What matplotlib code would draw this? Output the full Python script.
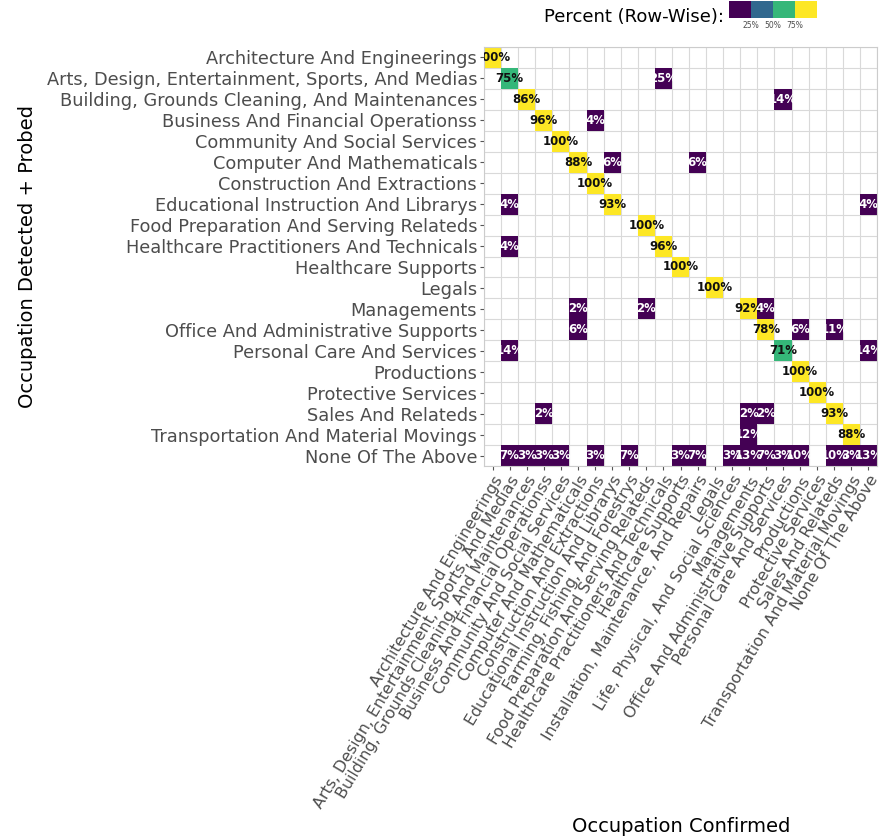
import numpy as np
import matplotlib
matplotlib.use('Agg')
import matplotlib.pyplot as plt
from matplotlib.colors import ListedColormap

confirmed = ['Architecture And Engineerings', 'Arts, Design, Entertainment, Sports, And Medias',
             'Building, Grounds Cleaning, And Maintenances', 'Business And Financial Operationss',
             'Community And Social Services', 'Computer And Mathematicals', 'Construction And Extractions',
             'Educational Instruction And Librarys', 'Farming, Fishing, And Forestrys',
             'Food Preparation And Serving Relateds', 'Healthcare Practitioners And Technicals',
             'Healthcare Supports', 'Installation, Maintenance, And Repairs', 'Legals',
             'Life, Physical, And Social Sciences', 'Managements', 'Office And Administrative Supports',
             'Personal Care And Services', 'Productions', 'Protective Services', 'Sales And Relateds',
             'Transportation And Material Movings', 'None Of The Above']

detected = ['Architecture And Engineerings', 'Arts, Design, Entertainment, Sports, And Medias',
            'Building, Grounds Cleaning, And Maintenances', 'Business And Financial Operationss',
            'Community And Social Services', 'Computer And Mathematicals', 'Construction And Extractions',
            'Educational Instruction And Librarys', 'Food Preparation And Serving Relateds',
            'Healthcare Practitioners And Technicals', 'Healthcare Supports', 'Legals', 'Managements',
            'Office And Administrative Supports', 'Personal Care And Services', 'Productions',
            'Protective Services', 'Sales And Relateds', 'Transportation And Material Movings',
            'None Of The Above']

# (detected row, confirmed column, row-wise percent)
row_idx = [0, 1, 1, 2, 2, 3, 3, 4, 5, 5, 5, 6, 7, 7, 7, 8, 9, 9, 10, 11,
           12, 12, 12, 12, 13, 13, 13, 13, 14, 14, 14, 15, 16, 17, 17, 17, 17, 18, 18,
           19, 19, 19, 19, 19, 19, 19, 19, 19, 19, 19, 19, 19, 19, 19, 19]
col_idx = [0, 1, 10, 2, 17, 3, 6, 4, 5, 7, 12, 6, 1, 7, 22, 9, 1, 10, 11, 13,
           5, 9, 15, 16, 5, 16, 18, 20, 1, 17, 22, 18, 19, 3, 15, 16, 20, 15, 21,
           1, 2, 3, 4, 6, 8, 11, 12, 14, 15, 16, 17, 18, 20, 21, 22]
pct = [100, 75, 25, 86, 14, 96, 4, 100, 88, 6, 6, 100, 4, 93, 4, 100, 4, 96, 100, 100,
       2, 2, 92, 4, 6, 78, 6, 11, 14, 71, 14, 100, 100, 2, 2, 2, 93, 12, 88,
       7, 3, 3, 3, 3, 7, 3, 7, 3, 13, 7, 3, 10, 10, 3, 13]

bin_colors = ['#440154', '#31688E', '#35B779', '#FDE725']
cmap = ListedColormap(bin_colors)

nr, nc = len(detected), len(confirmed)
grid = np.full((nr, nc), np.nan)
for r, c, v in zip(row_idx, col_idx, pct):
    grid[r, c] = np.digitize(v, [25, 50, 75], right=True)

fig = plt.figure(figsize=(8.93, 8.4), dpi=100)
ax = fig.add_axes([484 / 893, 1 - 466 / 840, 393 / 893, 419 / 840])

for i in range(nc + 1):
    ax.axvline(i, color='#D9D9D9', lw=0.8, zorder=0.5)
for j in range(nr + 1):
    ax.axhline(j, color='#D9D9D9', lw=0.8, zorder=0.5)

ax.pcolormesh(np.arange(nc + 1), np.arange(nr + 1), np.ma.masked_invalid(grid),
              cmap=cmap, vmin=-0.5, vmax=3.5, zorder=1)

for r, c, v in zip(row_idx, col_idx, pct):
    tc = 'white' if v <= 25 else '#111111'
    ax.text(c + 0.5, r + 0.5, f'{v}%', ha='center', va='center', fontsize=8.5,
            fontweight='bold', color=tc, clip_on=True, zorder=3)

ax.set_xlim(0, nc)
ax.set_ylim(nr, 0)
ax.set_xticks(np.arange(nc) + 0.5)
ax.set_xticklabels(confirmed, rotation=59, ha='right', va='top', rotation_mode='anchor')
ax.set_yticks(np.arange(nr) + 0.5)
ax.set_yticklabels(detected)
ax.tick_params(length=3, color='#555555', labelcolor='#4D4D4D', pad=2)
ax.tick_params(axis='y', labelsize=12.8)
ax.tick_params(axis='x', labelsize=11.4)
for s in ax.spines.values():
    s.set_color('#CCCCCC')
    s.set_linewidth(0.8)

fig.text(28 / 893, 1 - 256 / 840, 'Occupation Detected + Probed', rotation=90,
         ha='center', va='center', fontsize=14)
fig.text(681 / 893, 1 - 826 / 840, 'Occupation Confirmed', ha='center', va='center', fontsize=14)

# binned colour legend on top
fig.text(724 / 893, 1 - 17 / 840, 'Percent (Row-Wise):', ha='right', va='center', fontsize=13)
cax = fig.add_axes([729 / 893, 1 - 18 / 840, 88 / 893, 17 / 840])
cax.imshow(np.arange(4).reshape(1, -1), cmap=cmap, aspect='auto', extent=(0, 4, 0, 1))
cax.set_yticks([])
cax.set_xticks([1, 2, 3])
cax.set_xticklabels(['25%', '50%', '75%'])
cax.tick_params(length=0, labelsize=5.5, labelcolor='#4D4D4D', pad=2)
for s in cax.spines.values():
    s.set_visible(False)

fig.savefig('out.png', dpi=100)
